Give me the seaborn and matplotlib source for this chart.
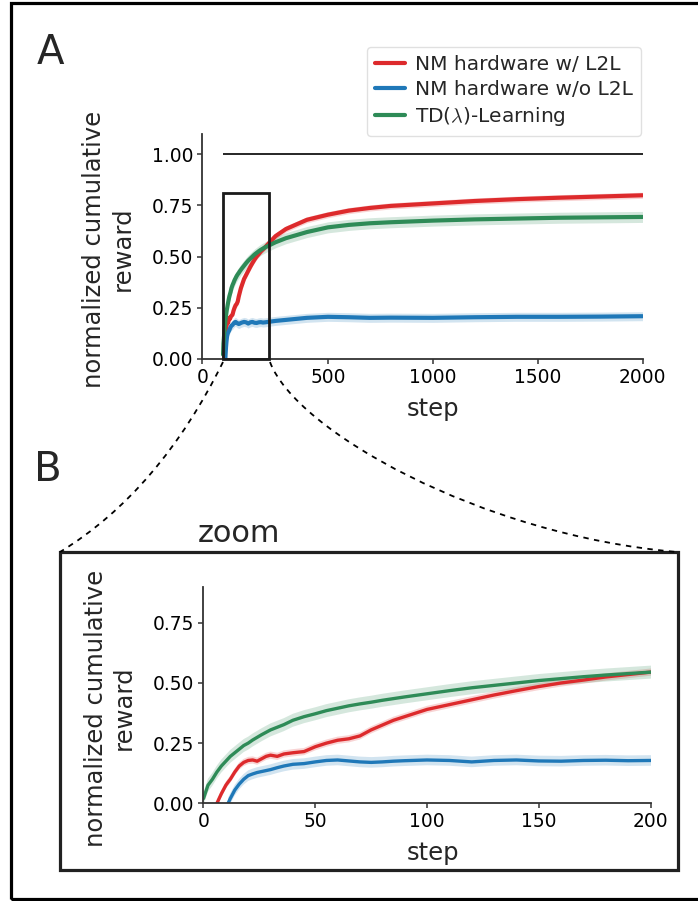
import numpy as np
import matplotlib
matplotlib.use("Agg")
import matplotlib.pyplot as plt
import matplotlib.patches as mpatches
from matplotlib.path import Path
import seaborn as sns

# ---------------- data ----------------
nan = np.nan
steps = [0, 2, 4, 6, 8, 10, 11, 12, 14, 16, 18, 20, 22, 24, 26, 28, 30, 33, 36, 40,
         45, 50, 55, 60, 65, 70, 75, 80, 85, 90, 100, 110, 120, 130, 140, 150, 160,
         170, 180, 190, 200, 250, 300, 400, 500, 600, 700, 800, 1000, 1200, 1400,
         1600, 1800, 2000]

reward_l2l = [nan, nan, nan, 0.0, 0.04, 0.075, 0.088, 0.10, 0.13, 0.155, 0.17, 0.178,
              0.18, 0.175, 0.185, 0.195, 0.20, 0.195, 0.205, 0.21, 0.215, 0.235, 0.25,
              0.262, 0.268, 0.28, 0.305, 0.325, 0.345, 0.36, 0.39, 0.41, 0.43, 0.45,
              0.468, 0.485, 0.50, 0.512, 0.525, 0.535, 0.545, 0.60, 0.635, 0.68, 0.705,
              0.725, 0.738, 0.748, 0.76, 0.772, 0.781, 0.788, 0.794, 0.80]

reward_nol2l = [nan, nan, nan, nan, nan, nan, 0.0, 0.02, 0.055, 0.08, 0.10, 0.115,
                0.122, 0.128, 0.132, 0.136, 0.14, 0.148, 0.155, 0.162, 0.165, 0.172,
                0.178, 0.18, 0.176, 0.172, 0.17, 0.172, 0.175, 0.177, 0.18, 0.178,
                0.172, 0.178, 0.18, 0.176, 0.175, 0.178, 0.179, 0.177, 0.178, 0.185,
                0.19, 0.20, 0.205, 0.203, 0.20, 0.201, 0.20, 0.203, 0.205, 0.205,
                0.206, 0.208]

reward_td = [0.02, 0.075, 0.10, 0.13, 0.155, 0.175, 0.185, 0.195, 0.21, 0.225, 0.24,
             0.25, 0.263, 0.274, 0.285, 0.295, 0.305, 0.316, 0.327, 0.345, 0.36, 0.372,
             0.385, 0.395, 0.405, 0.413, 0.42, 0.428, 0.435, 0.442, 0.455, 0.468, 0.48,
             0.49, 0.50, 0.51, 0.518, 0.526, 0.533, 0.539, 0.545, 0.57, 0.59, 0.62,
             0.643, 0.655, 0.663, 0.668, 0.676, 0.682, 0.686, 0.69, 0.692, 0.694]

band_l2l = 0.015
band_nol2l = 0.022
band_td = 0.027

labels = ["NM hardware w/ L2L", "NM hardware w/o L2L", r"TD($\lambda$)-Learning"]
colors = ["#dd2a2c", "#1f78b8", "#2e8b57"]

ticks_a = [0, 500, 1000, 1500, 2000]
ticks_b = [0, 50, 100, 150, 200]
yticks_a = [0.0, 0.25, 0.5, 0.75, 1.0]
yticks_b = [0.0, 0.25, 0.5, 0.75]

# ---------------- style ----------------
sns.set_style("ticks")
plt.rcParams["font.family"] = ["DejaVu Sans"]
plt.rcParams["mathtext.fontset"] = "cm"
plt.rcParams["axes.edgecolor"] = "0.2"
plt.rcParams["xtick.color"] = "0.2"
plt.rcParams["ytick.color"] = "0.2"
plt.rcParams["xtick.labelcolor"] = "black"
plt.rcParams["ytick.labelcolor"] = "black"

W, H = 698, 901
fig = plt.figure(figsize=(W / 100, H / 100), dpi=100)


def fx(px):
    return px / W


def fy(py):
    return 1 - py / H


axA = fig.add_axes([fx(202.5), fy(358.7), (642.5 - 202.5) / W, (358.7 - 134) / H])
axB = fig.add_axes([fx(203.5), fy(803.3), (650.5 - 203.5) / W, (803.3 - 586.7) / H])

series = [(reward_l2l, band_l2l), (reward_nol2l, band_nol2l), (reward_td, band_td)]
x = np.array(steps, dtype=float)
for ax, lw in [(axA, 3.0), (axB, 2.4)]:
    for (vals, band), col, lab in zip(series, colors, labels):
        v = np.array(vals, dtype=float)
        ax.fill_between(x, v - band, v + band, color=col, alpha=0.2, lw=0)
        sns.lineplot(x=x, y=v, ax=ax, color=col, lw=lw, label=lab,
                     errorbar=None, legend=False)
    sns.despine(ax=ax)
    for s in ["left", "bottom"]:
        ax.spines[s].set_linewidth(1.3)
    ax.tick_params(axis="both", labelsize=13.4, length=3.5, width=1.1, pad=3)
    ax.set_ylabel("normalized cumulative\nreward", fontsize=17.5, linespacing=1.2)
    ax.set_xlabel("step", fontsize=17.5)

# Panel A
x0a = -98
axA.set_xlim(x0a, 2000)
axA.set_ylim(0, 1.1)
axA.set_xticks([x0a] + ticks_a[1:])
axA.set_xticklabels([str(t) for t in ticks_a])
axA.set_yticks(yticks_a)
axA.set_yticklabels([f"{t:.2f}" for t in yticks_a])
axA.hlines(1.0, 0, 2000, color="0.15", lw=1.4)
axA.add_patch(mpatches.Rectangle((0, 0), 220, 0.81, fill=False, ec="0.1", lw=2.0,
                                 clip_on=False, zorder=6))
axA.yaxis.set_label_coords(-0.155, 0.488)
axA.xaxis.set_label_coords(0.524, -0.17)

handles = [plt.Line2D([], [], color=c, lw=3.0) for c in colors]
leg = axA.legend(handles, labels, loc="upper right",
                 bbox_to_anchor=(fx(641), fy(47)), bbox_transform=fig.transFigure,
                 fontsize=14.5, handlelength=1.5, handletextpad=0.5,
                 labelspacing=0.3, borderpad=0.4, borderaxespad=0, frameon=True)
leg.get_frame().set_edgecolor("0.85")

# Panel B
axB.set_xlim(0, 200)
axB.set_ylim(0, 0.9)
axB.set_xticks(ticks_b)
axB.set_yticks(yticks_b)
axB.set_yticklabels([f"{t:.2f}" for t in yticks_b])
axB.yaxis.set_label_coords(-0.152, 0.44)
axB.xaxis.set_label_coords(0.514, -0.175)

# ---------------- figure decorations ----------------
fig.text(fx(50), fy(53), "A", fontsize=29, ha="center", va="center")
fig.text(fx(48), fy(470), "B", fontsize=29, ha="center", va="center")
fig.text(fx(239), fy(533), "zoom", fontsize=22, ha="center", va="center")

# outer frame
fig.patches.append(mpatches.Rectangle((fx(11.5), fy(899)), (720 - 11.5) / W, (899 - 3) / H,
                                      transform=fig.transFigure, fill=False,
                                      ec="black", lw=2.3))
# inner frame around zoom panel
fig.patches.append(mpatches.Rectangle((fx(59.5), fy(870)), (678 - 59.5) / W, (870 - 552) / H,
                                      transform=fig.transFigure, fill=False,
                                      ec="0.13", lw=2.3))


def bez(pts):
    verts = [(fx(a), fy(b)) for a, b in pts]
    codes = [Path.MOVETO, Path.CURVE4, Path.CURVE4, Path.CURVE4]
    return mpatches.PathPatch(Path(verts, codes), transform=fig.transFigure,
                              fill=False, ec="black", lw=1.3, ls=(0, (3, 3)))


fig.patches.append(bez([(223, 362), (181, 447), (127, 511), (60, 552)]))
fig.patches.append(bez([(270, 362), (295, 430), (480, 535), (677, 552)]))

fig.savefig("out.png", dpi=100)
